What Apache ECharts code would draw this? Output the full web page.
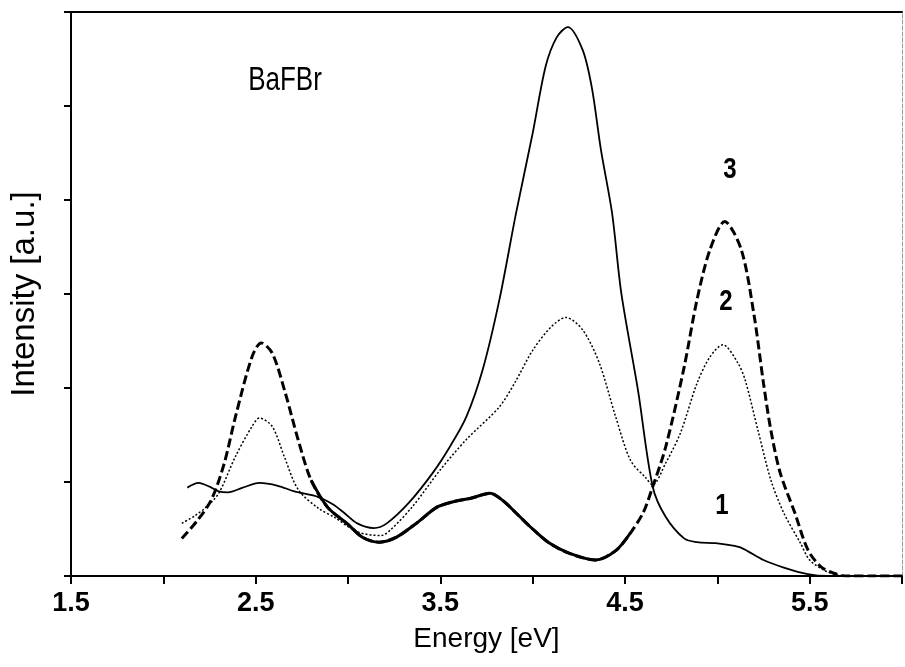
<!DOCTYPE html>
<html>
<head>
<meta charset="utf-8">
<script src="https://cdn.jsdelivr.net/npm/echarts@6/dist/echarts.min.js"></script>
<style>html,body{margin:0;padding:0;background:#fff}#c{width:905px;height:667px}</style>
</head>
<body>
<div id="c"></div>
<script>
// Curve 1 (thin solid)
var energy1 = [2.13,2.19,2.25,2.30,2.35,2.43,2.52,2.62,2.71,2.84,2.92,2.98,3.05,3.14,3.21,3.33,3.46,3.55,3.64,3.73,3.82,3.91,4.00,4.07,4.13,4.19,4.27,4.32,4.37,4.43,4.48,4.57,4.65,4.72,4.82,4.89,4.99,5.06,5.13,5.25,5.36,5.49,5.60,5.80,6.00];
var intensity1 = [0.94,0.99,0.95,0.90,0.89,0.94,0.99,0.96,0.90,0.84,0.76,0.67,0.56,0.51,0.56,0.78,1.10,1.37,1.69,2.20,2.94,3.86,4.71,5.42,5.73,5.84,5.60,5.20,4.53,3.86,3.01,1.98,0.95,0.63,0.40,0.36,0.35,0.33,0.30,0.17,0.09,0.02,0.00,0.00,0.00];
// Curve 2 (dotted)
var energy2 = [2.10,2.17,2.23,2.30,2.39,2.48,2.52,2.59,2.655,2.73,2.84,2.93,3.05,3.18,3.23,3.35,3.50,3.64,3.82,3.91,4.00,4.10,4.18,4.27,4.36,4.45,4.53,4.61,4.65,4.72,4.80,4.89,4.96,5.03,5.11,5.15,5.22,5.29,5.36,5.45,5.50,5.58,5.65,5.75,5.90,6.00];
var intensity2 = [0.56,0.64,0.73,0.88,1.27,1.59,1.68,1.59,1.27,0.92,0.72,0.62,0.47,0.43,0.49,0.74,1.13,1.45,1.80,2.08,2.40,2.65,2.75,2.62,2.27,1.69,1.23,1.05,0.97,1.20,1.52,2.05,2.33,2.46,2.27,2.09,1.55,1.02,0.67,0.35,0.17,0.06,0.01,0.00,0.00,0.00];
// Curve 3 (thick dashed)
var energy3 = [2.10,2.18,2.26,2.33,2.39,2.48,2.53,2.59,2.66,2.73,2.80,2.89,3.00,3.08,3.17,3.26,3.37,3.48,3.57,3.67,3.77,3.84,3.91,4.00,4.09,4.20,4.34,4.45,4.53,4.60,4.65,4.72,4.82,4.89,4.96,5.04,5.13,5.20,5.25,5.29,5.34,5.42,5.49,5.56,5.63,5.70,5.85,6.00];
var intensity3 = [0.40,0.58,0.81,1.20,1.69,2.33,2.48,2.37,1.95,1.45,1.02,0.73,0.55,0.41,0.36,0.41,0.56,0.73,0.79,0.83,0.88,0.80,0.67,0.50,0.35,0.24,0.17,0.27,0.46,0.68,0.95,1.37,2.22,2.94,3.47,3.77,3.47,2.76,2.05,1.55,1.10,0.67,0.28,0.10,0.03,0.00,0.00,0.00];

var xTickLabels = ['1.5','2.5','3.5','4.5','5.5'];
var curveLabels = ['1','2','3'];
var sampleName = 'BaFBr';

function pairs(xs, ys){ return xs.map(function(x,i){ return [x, ys[i]]; }); }
var d1 = pairs(energy1, intensity1);
var d2 = pairs(energy2, intensity2);
var d3 = pairs(energy3, intensity3);
var d3solid = d3.filter(function(p){ return p[0] >= 2.80 && p[0] <= 4.56; });

var sans = "'Liberation Sans', Arial, sans-serif";

var chart = echarts.init(document.getElementById('c'), null, {renderer:'canvas'});
var lineBase = {type:'line', showSymbol:false, smooth:0.3, animation:false, z:3};
chart.setOption({
  animation:false,
  backgroundColor:'#fff',
  grid:{left:68, right:1, top:12, bottom:91, containLabel:false},
  xAxis:[{
    type:'value', min:1.5, max:6.0, interval:0.5, position:'bottom',
    name:'Energy [eV]', nameLocation:'middle', nameGap:49,
    nameTextStyle:{fontFamily:sans, fontSize:28, color:'#000'},
    axisLine:{show:true, onZero:false, lineStyle:{color:'#000', width:2}},
    axisTick:{show:true, inside:false, length:8, lineStyle:{color:'#000', width:2}},
    axisLabel:{show:true, margin:14, fontFamily:sans, fontSize:27, fontWeight:'bold', color:'#000',
      formatter:function(v){ var s=v.toFixed(1); return xTickLabels.indexOf(s)>=0 ? s : ''; }},
    splitLine:{show:false}
  },{
    type:'value', min:1.5, max:6.0, position:'top',
    axisLine:{show:true, onZero:false, lineStyle:{color:'#000', width:2}},
    axisTick:{show:false}, axisLabel:{show:false}, splitLine:{show:false}
  }],
  yAxis:[{
    type:'value', min:0, max:6, interval:1, position:'left',
    name:'Intensity [a.u.]', nameLocation:'middle', nameGap:30, nameRotate:90,
    nameTextStyle:{fontFamily:sans, fontSize:33, color:'#000'},
    axisLine:{show:true, onZero:false, lineStyle:{color:'#000', width:2}},
    axisTick:{show:true, inside:false, length:7, lineStyle:{color:'#000', width:2}},
    axisLabel:{show:false}, splitLine:{show:false}
  },{
    type:'value', min:0, max:6, position:'right',
    axisLine:{show:true, onZero:false, lineStyle:{color:'#999', width:1, type:[4,2]}},
    axisTick:{show:false}, axisLabel:{show:false}, splitLine:{show:false}
  }],
  series:[
    Object.assign({}, lineBase, {name:'1', data:d1, lineStyle:{color:'#000', width:1.8, type:'solid'}}),
    Object.assign({}, lineBase, {name:'2', data:d2, lineStyle:{color:'#000', width:1.5, type:[2,2]}}),
    Object.assign({}, lineBase, {name:'3', data:d3, lineStyle:{color:'#000', width:3, type:[9,4]}}),
    Object.assign({}, lineBase, {name:'3s', data:d3solid, lineStyle:{color:'#000', width:3, type:'solid'}})
  ],
  graphic:[
    {type:'text', x:285, y:81, scaleY:1.27, style:{text:sampleName, font:"26px "+sans, fill:'#000', align:'center', verticalAlign:'middle'}},
    {type:'text', x:730, y:170, scaleY:1.25, style:{text:curveLabels[2], font:"bold 24px "+sans, fill:'#000', align:'center', verticalAlign:'middle'}},
    {type:'text', x:726, y:302, scaleY:1.25, style:{text:curveLabels[1], font:"bold 24px "+sans, fill:'#000', align:'center', verticalAlign:'middle'}},
    {type:'text', x:722, y:506, scaleY:1.25, style:{text:curveLabels[0], font:"bold 24px "+sans, fill:'#000', align:'center', verticalAlign:'middle'}}
  ]
});
</script>
</body>
</html>
